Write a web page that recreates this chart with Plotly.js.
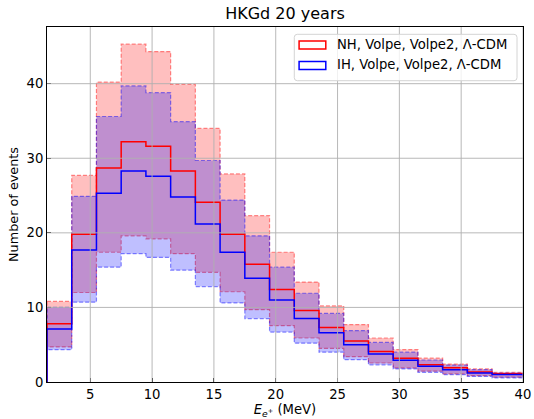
<!DOCTYPE html>
<html>
<head>
<meta charset="utf-8">
<script src="https://cdn.plot.ly/plotly-3.0.1.min.js"></script>
<style>html,body{margin:0;padding:0;background:#fff;}</style>
</head>
<body>
<div id="chart" style="width:534px;height:419px;"></div>
<script>
// Bin edges (MeV)
const binEdges = [1.5,3.5,5.5,7.5,9.5,11.5,13.5,15.5,17.5,19.5,21.5,23.5,25.5,27.5,29.5,31.5,33.5,35.5,37.5,40];

// NH, Volpe, Volpe2, Lambda-CDM
const nhCentral = [7.8,19.8,28.7,32.2,31.6,28.3,24.1,19.8,15.8,12.4,9.6,7.3,5.5,4.1,3.2,2.3,1.9,1.35,1.1];
const nhUpper   = [10.8,27.7,40.2,45.3,44.3,39.9,34.0,27.9,22.3,17.4,13.4,10.2,7.7,5.9,4.35,3.2,2.4,1.75,1.3];
const nhLower   = [4.7,12.0,17.4,19.6,19.2,17.2,14.7,12.1,9.7,7.55,5.9,4.5,3.4,2.55,1.9,1.45,1.1,0.85,0.65];

// IH, Volpe, Volpe2, Lambda-CDM
const ihCentral = [7.1,17.7,25.3,28.3,27.6,24.8,21.2,17.4,13.9,11.0,8.5,6.6,5.0,3.75,2.9,2.1,1.65,1.2,1.0];
const ihUpper   = [10.0,24.9,35.6,39.7,38.8,34.9,29.7,24.4,19.6,15.4,11.9,9.2,6.9,5.3,4.0,2.95,2.25,1.65,1.2];
const ihLower   = [4.34,10.7,15.4,17.2,16.7,15.0,12.8,10.6,8.5,6.7,5.2,4.0,3.0,2.3,1.75,1.3,1.0,0.75,0.55];

const legendLabels = ["NH, Volpe, Volpe2, \u039B-CDM", "IH, Volpe, Volpe2, \u039B-CDM"];
const xTicks = [5,10,15,20,25,30,35,40];
const yTicks = [0,10,20,30,40];

function bandPolygon(edges, up, lo) {
  const x = [], y = [];
  for (let i = 0; i < up.length; i++) { x.push(edges[i], edges[i+1]); y.push(up[i], up[i]); }
  for (let i = lo.length - 1; i >= 0; i--) { x.push(edges[i+1], edges[i]); y.push(lo[i], lo[i]); }
  x.push(edges[0]); y.push(up[0]);
  return {x, y};
}
function stepLine(edges, v) {
  const x = [edges[0]], y = [0];
  for (let i = 0; i < v.length; i++) { x.push(edges[i], edges[i+1]); y.push(v[i], v[i]); }
  return {x, y};
}

const nhBand = bandPolygon(binEdges, nhUpper, nhLower);
const ihBand = bandPolygon(binEdges, ihUpper, ihLower);
const nhLine = stepLine(binEdges, nhCentral);
const ihLine = stepLine(binEdges, ihCentral);

const traces = [
  {x: nhBand.x, y: nhBand.y, type:'scatter', mode:'lines', fill:'toself',
   fillcolor:'rgba(255,0,0,0.25)', line:{color:'rgba(255,0,0,0.45)', width:1.2, dash:'4px,2px'},
   hoverinfo:'skip', showlegend:false},
  {x: ihBand.x, y: ihBand.y, type:'scatter', mode:'lines', fill:'toself',
   fillcolor:'rgba(0,0,255,0.25)', line:{color:'rgba(0,0,255,0.45)', width:1.2, dash:'4px,2px'},
   hoverinfo:'skip', showlegend:false},
  {x: nhLine.x, y: nhLine.y, type:'scatter', mode:'lines',
   line:{color:'#ff0000', width:1.5}, hoverinfo:'skip', showlegend:false},
  {x: ihLine.x, y: ihLine.y, type:'scatter', mode:'lines',
   line:{color:'#0000ff', width:1.5}, hoverinfo:'skip', showlegend:false}
];

const gridColor = '#b0b0b0';
const shapes = [];
xTicks.forEach(v => shapes.push({type:'line', xref:'x', yref:'paper', x0:v, x1:v, y0:0, y1:1,
  line:{color:gridColor, width:0.9}, layer:'above'}));
yTicks.slice(1).forEach(v => shapes.push({type:'line', xref:'paper', yref:'y', x0:0, x1:1, y0:v, y1:v,
  line:{color:gridColor, width:0.9}, layer:'above'}));

// legend box (rounded corners), paper coordinates
function roundRect(x0, x1, y0, y1, rx, ry) {
  return `M${x0+rx},${y0} L${x1-rx},${y0} Q${x1},${y0} ${x1},${y0+ry} L${x1},${y1-ry} Q${x1},${y1} ${x1-rx},${y1} ` +
         `L${x0+rx},${y1} Q${x0},${y1} ${x0},${y1-ry} L${x0},${y0+ry} Q${x0},${y0} ${x0+rx},${y0} Z`;
}
shapes.push({type:'path', xref:'paper', yref:'paper', path: roundRect(0.5195, 0.9874, 0.8487, 0.9794, 0.0063, 0.0085),
  fillcolor:'rgba(255,255,255,0.8)', line:{color:'#d4d4d4', width:1}, layer:'above'});
shapes.push({type:'rect', xref:'paper', yref:'paper', x0:0.5296, x1:0.5857, y0:0.9380, y1:0.9606,
  fillcolor:'rgba(255,255,255,0)', line:{color:'#ff0000', width:1.5}, layer:'above'});
shapes.push({type:'rect', xref:'paper', yref:'paper', x0:0.5296, x1:0.5857, y0:0.8803, y1:0.9028,
  fillcolor:'rgba(255,255,255,0)', line:{color:'#0000ff', width:1.5}, layer:'above'});

const font = {family:'DejaVu Sans', size:13.2, color:'#000'};
const annotations = [
  {xref:'paper', yref:'paper', x:0.6057, y:0.9493, xanchor:'left', yanchor:'middle',
   text:legendLabels[0], showarrow:false, font:font},
  {xref:'paper', yref:'paper', x:0.6057, y:0.8930, xanchor:'left', yanchor:'middle',
   text:legendLabels[1], showarrow:false, font:font}
];

const layout = {
  width:534, height:419,
  margin:{l:47, r:11, t:27, b:37, pad:0},
  paper_bgcolor:'#fff', plot_bgcolor:'#fff',
  showlegend:false,
  title:{text:'HKGd 20 years', font:{family:'DejaVu Sans', size:16, color:'#000'},
         x:0.5, xref:'paper', xanchor:'center', y:0.969, yref:'container', yanchor:'middle'},
  xaxis:{range:[1.5,40], tickvals:xTicks, ticks:'inside', ticklen:4, tickwidth:1, tickcolor:'#000',
         showline:true, mirror:true, linecolor:'#000', linewidth:1, showgrid:false, zeroline:false,
         tickfont:font, automargin:false,
         title:{text:'<i>E</i><sub><i>e</i><sup>+</sup></sub> (MeV)', font:font, standoff:3}},
  yaxis:{range:[0,47.6], tickvals:yTicks, ticks:'inside', ticklen:4, tickwidth:1, tickcolor:'#000',
         showline:true, mirror:true, linecolor:'#000', linewidth:1, showgrid:false, zeroline:false,
         tickfont:font, automargin:false,
         title:{text:'Number of events', font:Object.assign({}, font, {size:12.8}), standoff:5}},
  shapes:shapes,
  annotations:annotations
};

Plotly.newPlot('chart', traces, layout, {displayModeBar:false, staticPlot:true});
</script>
</body>
</html>
